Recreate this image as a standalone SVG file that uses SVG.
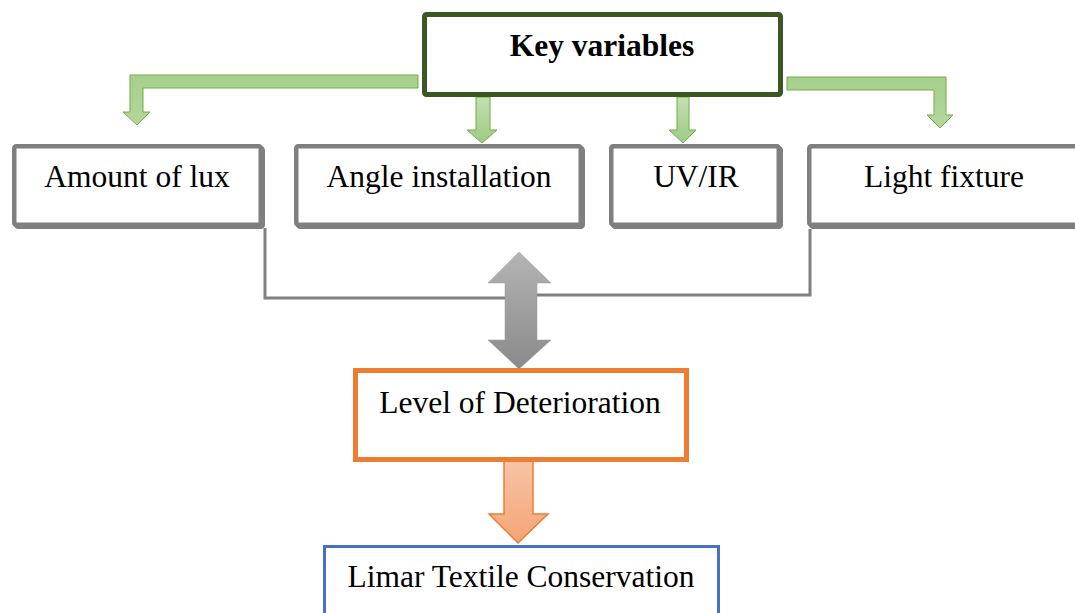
<svg xmlns="http://www.w3.org/2000/svg" width="1075" height="613" viewBox="0 0 1075 613">
<defs>
<linearGradient id="gGreen" x1="0" y1="0" x2="0" y2="1">
<stop offset="0" stop-color="#a6cf8c"/>
<stop offset="1" stop-color="#b3d79d"/>
</linearGradient>
<linearGradient id="gGreen2" x1="0" y1="0" x2="0" y2="1">
<stop offset="0" stop-color="#c3e0b0"/>
<stop offset="1" stop-color="#9dcb84"/>
</linearGradient>
<linearGradient id="gGray" x1="0" y1="0" x2="0" y2="1">
<stop offset="0" stop-color="#b4b4b4"/>
<stop offset="1" stop-color="#8a8a8a"/>
</linearGradient>
<linearGradient id="gOrange" x1="0" y1="0" x2="0" y2="1">
<stop offset="0" stop-color="#f8c4a6"/>
<stop offset="1" stop-color="#f4a476"/>
</linearGradient>
</defs>
<style>
.t{font-family:"Liberation Serif","Times New Roman",serif;font-size:31.5px;fill:#000;text-anchor:middle}
.b{font-weight:bold}
.gbox{fill:#fff;stroke:#7f7f7f;stroke-width:4.5}
.gsh{fill:none;stroke:#7f7f7f;stroke-width:4.5}
.garr{fill:url(#gGreen);stroke:#70ad47;stroke-width:1}
.garr2{fill:url(#gGreen2);stroke:#70ad47;stroke-width:1}
.conn{fill:none;stroke:#808080;stroke-width:3}
</style>
<rect width="1075" height="613" fill="#fff"/>
<g id="connectors">
<path class="conn" d="M265,228 V298 H506 M536,295 H810 V229"/>
<polygon class="garr" points="418,75 130,75 130,112 123,112 137,125 150,112 143,112 143,88 418,88"/>
<polygon class="garr" points="787,77 946,77 946,115 953,115 940,128 927,115 934,115 934,90 787,90"/>
<polygon class="garr2" points="476,97 490,97 490,130 497,130 482,143 467,130 476,130"/>
<polygon class="garr2" points="677,97 689,97 689,130 696,130 683,143 669,130 677,130"/>
<polygon fill="url(#gGray)" stroke="#9a9a9a" stroke-width="0.5" points="519,252 551,283 537,283 537,340 551,340 519,369 488,340 505,340 505,283 488,283"/>
<polygon fill="url(#gOrange)" stroke="#ed7d31" stroke-width="1.5" points="504,461 533,461 533,514 548,514 518,543 489,514 504,514"/>
</g>
<g id="key-variables">
<rect x="424.5" y="14.5" width="356" height="80" rx="2" fill="#fff" stroke="#3b5724" stroke-width="5"/>
<text class="t b" x="602" y="56">Key variables</text>
</g>
<g id="amount-of-lux">
<rect class="gsh" x="16.25" y="148.25" width="246.5" height="78.5" rx="2"/>
<rect class="gbox" x="14.25" y="146.25" width="246.5" height="78.5" rx="2"/>
<text class="t" x="137" y="187">Amount of lux</text>
</g>
<g id="angle-installation">
<rect class="gsh" x="298.25" y="148.25" width="284.5" height="78.5" rx="2"/>
<rect class="gbox" x="296.25" y="146.25" width="284.5" height="78.5" rx="2"/>
<text class="t" x="439" y="187">Angle installation</text>
</g>
<g id="uv-ir">
<rect class="gsh" x="613.25" y="148.25" width="167.5" height="78.5" rx="2"/>
<rect class="gbox" x="611.25" y="146.25" width="167.5" height="78.5" rx="2"/>
<text class="t" x="696" y="187">UV/IR</text>
</g>
<g id="light-fixture">
<rect class="gsh" x="811.25" y="148.25" width="300" height="78.5" rx="2"/>
<rect class="gbox" x="809.25" y="146.25" width="300" height="78.5" rx="2"/>
<text class="t" x="944" y="187">Light fixture</text>
</g>
<g id="level-of-deterioration">
<rect x="355.5" y="370.5" width="331" height="89" fill="#fff" stroke="#ed7d31" stroke-width="5"/>
<text class="t" x="520" y="413">Level of Deterioration</text>
</g>
<g id="limar-textile-conservation">
<rect x="324.5" y="546.5" width="394" height="80" fill="#fff" stroke="#4472c4" stroke-width="3"/>
<text class="t" x="521" y="587">Limar Textile Conservation</text>
</g>
</svg>
